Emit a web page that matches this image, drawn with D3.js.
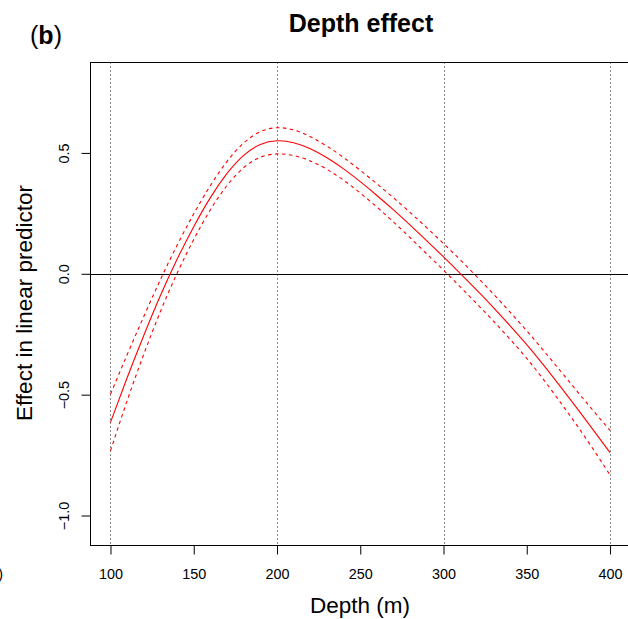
<!DOCTYPE html>
<meta charset="utf-8">

<!-- Load d3.js -->
<script src="https://d3js.org/d3.v7.min.js"></script>

<style>
  body { margin: 0; background: #fff; }
  text { font-family: "Liberation Sans", Arial, Helvetica, sans-serif; }
</style>

<div id="dataviz_depth"></div>

<script>

  // fitted smooth of depth
  var depth = [100, 110, 120, 130, 140, 150, 160, 170, 180, 190, 200,
               210, 220, 230, 240, 250, 260, 270, 280, 290, 300,
               310, 320, 330, 340, 350, 360, 370, 380, 390, 400];
  var fit = [-0.615, -0.43, -0.255, -0.09, 0.06, 0.195, 0.315, 0.415, 0.49, 0.535, 0.55,
             0.542, 0.517, 0.48, 0.434, 0.381, 0.324, 0.264, 0.201, 0.136, 0.070,
             0.002, -0.068, -0.140, -0.215, -0.293, -0.377, -0.465, -0.555, -0.647, -0.740];
  var upper = [-0.498, -0.335, -0.177, -0.024, 0.118, 0.248, 0.365, 0.465, 0.541, 0.588, 0.604,
               0.595, 0.567, 0.528, 0.481, 0.428, 0.372, 0.314, 0.253, 0.190, 0.125,
               0.058, -0.012, -0.084, -0.159, -0.236, -0.317, -0.400, -0.484, -0.567, -0.648];
  var lower = [-0.732, -0.525, -0.333, -0.156, 0.002, 0.142, 0.265, 0.365, 0.439, 0.482, 0.496,
               0.489, 0.467, 0.432, 0.387, 0.334, 0.276, 0.214, 0.149, 0.082, 0.015,
               -0.054, -0.124, -0.196, -0.271, -0.350, -0.437, -0.530, -0.626, -0.727, -0.832];

  var xTicks = [100, 150, 200, 250, 300, 350, 400];
  var yTicks = [-1, -0.5, 0, 0.5];
  var yTickLabels = ["\u22121.0", "\u22120.5", "0.0", "0.5"];
  var vLines = [100, 200, 300, 400];

  // set the dimensions of the graph
  var W = 628, H = 619;
  var box = {left: 90.5, top: 62.5, right: 630, bottom: 545.5};

  var svg = d3.select("#dataviz_depth")
    .append("svg")
    .attr("width", W)
    .attr("height", H);

  var x = d3.scaleLinear()
    .domain([88, 412])
    .range([box.left, box.right]);

  var y = d3.scaleLinear()
    .domain([-1.124, 0.874])
    .range([box.bottom, box.top]);

  // dotted verticals
  svg.selectAll(".vline")
    .data(vLines)
    .enter()
    .append("line")
    .attr("x1", function (d) { return Math.round(x(d)) + 0.5; })
    .attr("x2", function (d) { return Math.round(x(d)) + 0.5; })
    .attr("y1", box.top)
    .attr("y2", box.bottom)
    .style("stroke", "#111")
    .style("stroke-width", 1)
    .style("stroke-dasharray", "1,3");

  // zero line
  svg.append("line")
    .attr("x1", box.left).attr("x2", box.right)
    .attr("y1", Math.round(y(0)) + 0.5).attr("y2", Math.round(y(0)) + 0.5)
    .style("stroke", "#000")
    .style("stroke-width", 1);

  // curves
  var line = function (vals) {
    return d3.line()
      .x(function (d, i) { return x(depth[i]); })
      .y(function (d) { return y(d); })
      .curve(d3.curveNatural)(vals);
  };

  svg.append("path").attr("d", line(upper))
    .style("fill", "none").style("stroke", "#ff0000").style("stroke-width", 1.1)
    .style("stroke-dasharray", "3.5,3.5");
  svg.append("path").attr("d", line(lower))
    .style("fill", "none").style("stroke", "#ff0000").style("stroke-width", 1.1)
    .style("stroke-dasharray", "3.5,3.5");
  svg.append("path").attr("d", line(fit))
    .style("fill", "none").style("stroke", "#ff0000").style("stroke-width", 1.1);

  // box
  svg.append("rect")
    .attr("x", box.left).attr("y", box.top)
    .attr("width", box.right - box.left).attr("height", box.bottom - box.top)
    .style("fill", "none").style("stroke", "#000").style("stroke-width", 1);

  // X axis
  var xAxis = svg.append("g")
    .attr("transform", "translate(0," + box.bottom + ")")
    .call(d3.axisBottom(x).tickValues(xTicks).tickSize(9).tickFormat(d3.format("d")));
  xAxis.select(".domain").remove();
  xAxis.selectAll("line").style("stroke", "#000");
  xAxis.selectAll("text")
    .attr("y", 33.5).attr("dy", 0)
    .style("font-size", "14.4px")
    .style("fill", "#000");

  // Y axis
  var yAxis = svg.append("g")
    .attr("transform", "translate(" + box.left + ",0)")
    .call(d3.axisLeft(y).tickValues(yTicks).tickSize(9)
      .tickFormat(function (d, i) { return yTickLabels[i]; }));
  yAxis.select(".domain").remove();
  yAxis.selectAll("line").style("stroke", "#000");
  yAxis.selectAll("text")
    .attr("x", 0).attr("dy", 0)
    .attr("text-anchor", "middle")
    .attr("transform", "translate(-22,0) rotate(-90)")
    .style("font-size", "14.4px")
    .style("fill", "#000");

  // X axis label
  svg.append("text")
    .attr("text-anchor", "middle")
    .attr("x", 360)
    .attr("y", 613)
    .style("font-size", "22.5px")
    .text("Depth (m)");

  // Y axis label
  svg.append("text")
    .attr("text-anchor", "middle")
    .attr("transform", "translate(32,303) rotate(-90)")
    .style("font-size", "22.5px")
    .text("Effect in linear predictor");

  // Title
  svg.append("text")
    .attr("text-anchor", "middle")
    .attr("x", 361)
    .attr("y", 32)
    .style("font-size", "25px")
    .style("font-weight", "bold")
    .text("Depth effect");

  // panel tag
  var tag = svg.append("text")
    .attr("text-anchor", "middle")
    .attr("x", 46).attr("y", 44)
    .style("font-size", "25px");
  tag.append("tspan").text("(");
  tag.append("tspan").style("font-weight", "bold").text("b");
  tag.append("tspan").text(")");

  // stray bracket of the neighbouring panel, cut by the left edge as in the reference
  svg.append("text")
    .attr("text-anchor", "end")
    .attr("x", 3)
    .attr("y", 579)
    .style("font-size", "14.4px")
    .text(")");

</script>
